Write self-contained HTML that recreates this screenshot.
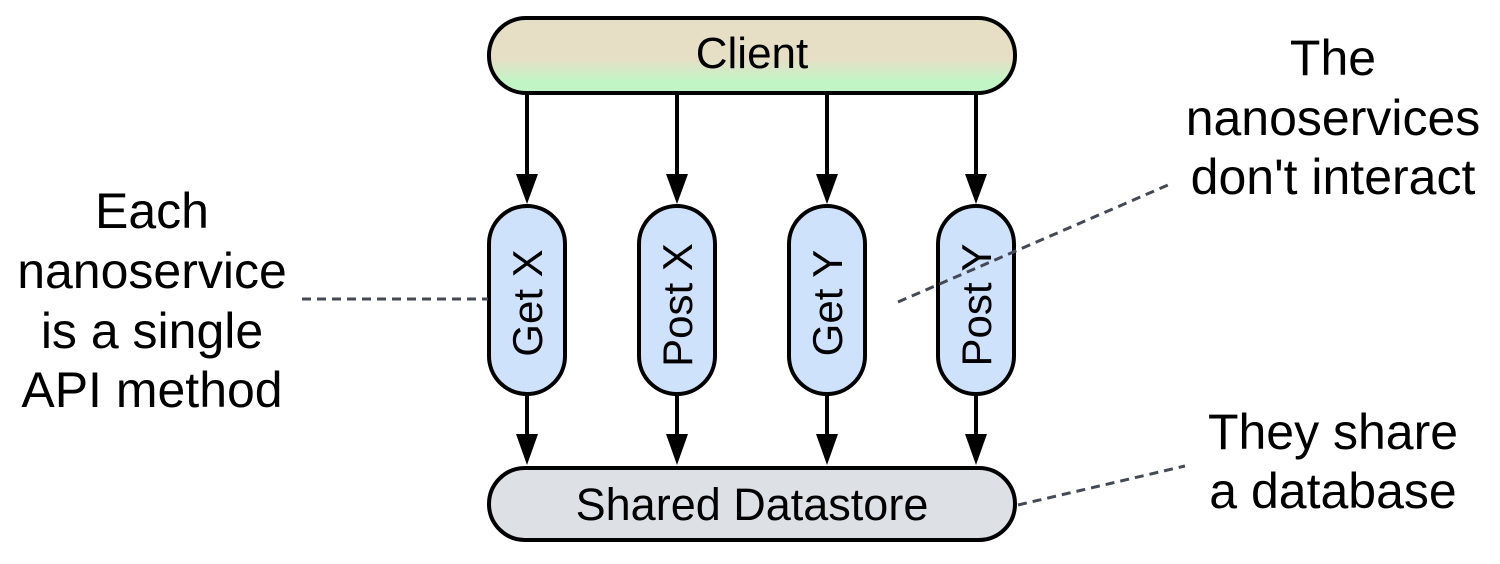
<!DOCTYPE html>
<html><head><meta charset="utf-8"><style>
html,body{margin:0;padding:0;background:#fff;}
svg{display:block;font-family:"Liberation Sans",sans-serif;}
</style></head><body>
<svg width="1500" height="564" viewBox="0 0 1500 564" xmlns="http://www.w3.org/2000/svg">
<defs>
<linearGradient id="cg" x1="0" y1="0" x2="0" y2="1">
<stop offset="0" stop-color="#e6dfc6"/><stop offset="0.55" stop-color="#e6dfc6"/><stop offset="0.85" stop-color="#c2f5c6"/><stop offset="1" stop-color="#c2f5c6"/>
</linearGradient>
</defs>
<rect x="489" y="18" width="526" height="75" rx="37" fill="url(#cg)" stroke="#000" stroke-width="4"/>
<text x="752" y="68" font-size="44" text-anchor="middle">Client</text>
<g stroke="#000" stroke-width="4">
<line x1="527" y1="95" x2="527" y2="178"/><line x1="677" y1="95" x2="677" y2="178"/><line x1="827" y1="95" x2="827" y2="178"/><line x1="976" y1="95" x2="976" y2="178"/>
<line x1="527" y1="395" x2="527" y2="440"/><line x1="677" y1="395" x2="677" y2="440"/><line x1="827" y1="395" x2="827" y2="440"/><line x1="976" y1="395" x2="976" y2="440"/>
</g>
<g fill="#000">
<polygon points="516,174 538,174 527,204"/><polygon points="666,174 688,174 677,204"/><polygon points="816,174 838,174 827,204"/><polygon points="965,174 987,174 976,204"/>
<polygon points="516,434 538,434 527,465"/><polygon points="666,434 688,434 677,465"/><polygon points="816,434 838,434 827,465"/><polygon points="965,434 987,434 976,465"/>
</g>
<g fill="#cfe2fc" stroke="#000" stroke-width="4">
<rect x="489" y="206" width="76" height="188" rx="38"/>
<rect x="639" y="206" width="76" height="188" rx="38"/>
<rect x="789" y="206" width="76" height="188" rx="38"/>
<rect x="938" y="206" width="76" height="188" rx="38"/>
</g>
<g font-size="42" text-anchor="middle">
<text transform="translate(542,303) rotate(-90)">Get X</text>
<text transform="translate(692,305) rotate(-90)">Post X</text>
<text transform="translate(842,303) rotate(-90)">Get Y</text>
<text transform="translate(991,305) rotate(-90)">Post Y</text>
</g>
<rect x="489" y="468" width="526" height="72" rx="36" fill="#dde0e5" stroke="#000" stroke-width="4"/>
<text x="752" y="520" font-size="45" text-anchor="middle">Shared Datastore</text>
<g stroke="#444a55" stroke-width="3" stroke-dasharray="9 6" fill="none">
<line x1="302" y1="299" x2="488" y2="299"/>
<line x1="898" y1="302" x2="1168" y2="185"/>
<line x1="1018" y1="505" x2="1185" y2="466"/>
</g>
<g font-size="50" text-anchor="middle">
<text x="152" y="228">Each</text>
<text x="152" y="288">nanoservice</text>
<text x="152" y="348">is a single</text>
<text x="152" y="407">API method</text>
<text x="1333" y="75">The</text>
<text x="1333" y="135">nanoservices</text>
<text x="1333" y="194">don't interact</text>
<text x="1333" y="449">They share</text>
<text x="1333" y="508">a database</text>
</g>
</svg>
</body></html>
